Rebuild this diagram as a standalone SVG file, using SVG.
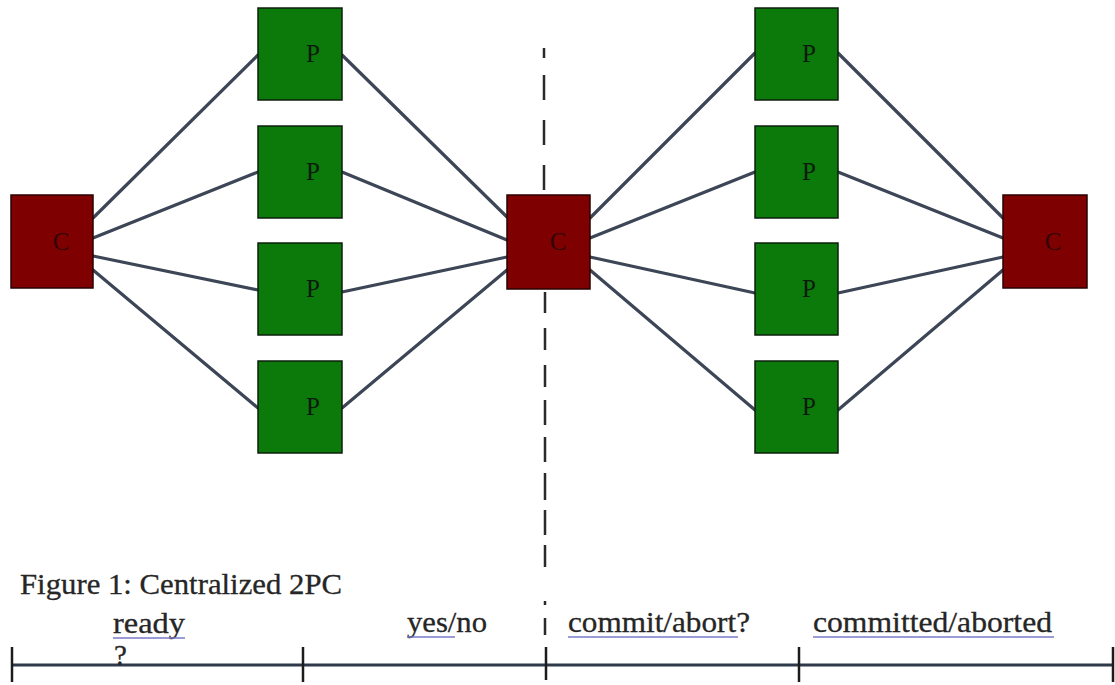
<svg xmlns="http://www.w3.org/2000/svg" width="1115" height="685" viewBox="0 0 1115 685">
  <style>
    .coord { fill: #7f0000; stroke: #2a0000; stroke-width: 1.5; }
    .part { fill: #0b7a0b; stroke: #0d200d; stroke-width: 1.5; }
    .lbl { font-family: "Liberation Serif", "Times New Roman", serif; font-size: 25px; }
    .lc { fill: #300404; }
    .lp { fill: #0c1a0c; }
    .link { stroke: #3c4656; stroke-width: 3.2; fill: none; stroke-linecap: round; }
    .txt { font-family: "Liberation Serif", "Times New Roman", serif; font-size: 29px; fill: #262626; stroke: #262626; stroke-width: 0.3; }
    .ul { stroke: #7a7ac8; stroke-width: 1.5; fill: none; }
    .axis { stroke: #2e3a4a; stroke-width: 3; fill: none; }
    .tick { stroke: #1c1c1c; stroke-width: 2.5; fill: none; }
    .dash { stroke: #2a2a2a; stroke-width: 2.5; fill: none; }
  </style>

  <!-- message links -->
  <g id="connectors">
    <path class="link" d="M93 218 L258 55 M93 238 L258 172 M93 256 L258 290 M93 270 L258 408"/>
    <path class="link" d="M342 55 L507 217 M342 172 L507 240 M342 292 L507 257 M342 408 L507 270"/>
    <path class="link" d="M590 218 L755 53 M590 238 L755 172 M590 257 L755 293 M590 270 L755 410"/>
    <path class="link" d="M838 53 L1003 218 M838 172 L1003 238 M838 293 L1003 257 M838 410 L1003 270"/>
  </g>

  <!-- phase separator -->
  <path id="separator" class="dash" d="M544 48V58 M544 75V100 M544 120V145 M544 165V190 M545 292V313 M545 328V350 M545 365V387 M545 400V425 M545 437V462 M545 473V500 M545 510V535 M545 545V567 M545 601V605 M545 618V635"/>

  <!-- coordinators -->
  <g id="coord-1"><rect class="coord" x="11" y="195" width="82" height="93"/><text class="lbl lc" x="61" y="250" text-anchor="middle">C</text></g>
  <g id="coord-2"><rect class="coord" x="507" y="195" width="83" height="94"/><text class="lbl lc" x="558" y="250" text-anchor="middle">C</text></g>
  <g id="coord-3"><rect class="coord" x="1003" y="195" width="84" height="93"/><text class="lbl lc" x="1053" y="250" text-anchor="middle">C</text></g>

  <!-- participants, first round -->
  <g id="part-1a"><rect class="part" x="258" y="8" width="84" height="92"/><text class="lbl lp" x="313" y="62" text-anchor="middle">P</text></g>
  <g id="part-1b"><rect class="part" x="258" y="126" width="84" height="92"/><text class="lbl lp" x="313" y="180" text-anchor="middle">P</text></g>
  <g id="part-1c"><rect class="part" x="258" y="243" width="84" height="92"/><text class="lbl lp" x="313" y="297" text-anchor="middle">P</text></g>
  <g id="part-1d"><rect class="part" x="258" y="361" width="84" height="92"/><text class="lbl lp" x="313" y="415" text-anchor="middle">P</text></g>

  <!-- participants, second round -->
  <g id="part-2a"><rect class="part" x="755" y="8" width="83" height="92"/><text class="lbl lp" x="809" y="62" text-anchor="middle">P</text></g>
  <g id="part-2b"><rect class="part" x="755" y="126" width="83" height="92"/><text class="lbl lp" x="809" y="180" text-anchor="middle">P</text></g>
  <g id="part-2c"><rect class="part" x="755" y="243" width="83" height="92"/><text class="lbl lp" x="809" y="297" text-anchor="middle">P</text></g>
  <g id="part-2d"><rect class="part" x="755" y="361" width="83" height="92"/><text class="lbl lp" x="809" y="415" text-anchor="middle">P</text></g>

  <!-- caption -->
  <text class="txt" x="20" y="594" textLength="322" lengthAdjust="spacingAndGlyphs">Figure 1: Centralized 2PC</text>

  <!-- timeline -->
  <g id="timeline">
    <path class="axis" d="M11 665 H1114"/>
    <path class="tick" d="M12 647V682 M303 647V682 M546 647V680 M799 647V682 M1113 647V682"/>
  </g>

  <!-- phase labels -->
  <g id="phase-labels">
    <text class="txt" x="113" y="633" textLength="72" lengthAdjust="spacingAndGlyphs">ready</text>
    <path class="ul" d="M113 638 H185" stroke="#3a3aa8"/>
    <text class="txt" x="114" y="665">?</text>
    <text class="txt" x="407" y="632" textLength="80" lengthAdjust="spacingAndGlyphs">yes/no</text>
    <path class="ul" d="M407 637 H455"/>
    <text class="txt" x="568" y="632" textLength="182" lengthAdjust="spacingAndGlyphs">commit/abort?</text>
    <path class="ul" d="M568 637 H738"/>
    <text class="txt" x="813" y="632" textLength="239" lengthAdjust="spacingAndGlyphs">committed/aborted</text>
    <path class="ul" d="M813 637 H1054"/>
  </g>
</svg>
